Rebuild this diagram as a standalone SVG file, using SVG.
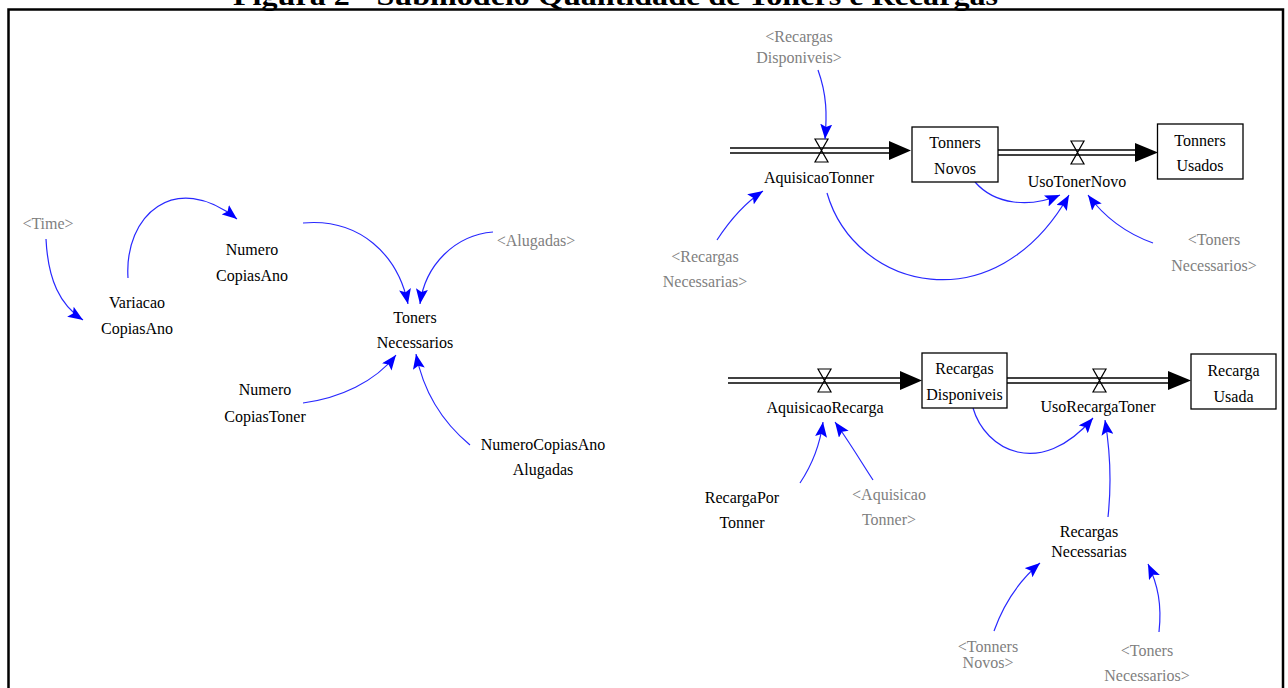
<svg xmlns="http://www.w3.org/2000/svg" width="1288" height="688" viewBox="0 0 1288 688">
<style>
text{font-family:"Liberation Serif","Times New Roman",serif;font-size:16px;text-anchor:middle;fill:#000}
.sh{fill:#808080}
.title{font-weight:bold;font-size:28px}
.lnk{fill:none;stroke:#2828ff;stroke-width:1.2;marker-end:url(#ah)}
.pipe{stroke:#000;stroke-width:1.4;fill:none}
.valve{fill:none;stroke:#000;stroke-width:1.2}
.stock{fill:#fff;stroke:#000;stroke-width:1.3}
</style>
<defs>
<marker id="ah" markerUnits="userSpaceOnUse" markerWidth="16" markerHeight="12" refX="15" refY="6" orient="auto">
<path d="M0,0 L15,6 L0,12 L3,6 z" fill="#0000ff"/>
</marker>
</defs>
<rect width="1288" height="688" fill="#fff"/>
<text class="title" x="615.5" y="5" textLength="765" lengthAdjust="spacingAndGlyphs">Figura 2 - Submodelo Quantidade de Toners e Recargas</text>
<rect x="8.5" y="9.5" width="1274.5" height="700" fill="none" stroke="#000" stroke-width="2.5"/>

<g id="flows">
<g id="pipe-aquisicaotonner">
<line class="pipe" x1="730" y1="148" x2="892" y2="148"/>
<line class="pipe" x1="730" y1="153" x2="892" y2="153"/>
<polygon points="889,141 911,150.5 889,160" fill="#000"/>
<path class="valve" d="M815,139 H828 L815,162 H828 Z"/>
</g>
<g id="pipe-usotonernovo">
<line class="pipe" x1="998" y1="150" x2="1138" y2="150"/>
<line class="pipe" x1="998" y1="155" x2="1138" y2="155"/>
<polygon points="1135,143 1158,152.5 1135,162" fill="#000"/>
<path class="valve" d="M1071,141 H1084 L1071,164 H1084 Z"/>
</g>
<g id="pipe-aquisicaorecarga">
<line class="pipe" x1="728" y1="378" x2="903" y2="378"/>
<line class="pipe" x1="728" y1="383" x2="903" y2="383"/>
<polygon points="900,371 922,380.5 900,390" fill="#000"/>
<path class="valve" d="M818,369 H831 L818,392 H831 Z"/>
</g>
<g id="pipe-usorecargatoner">
<line class="pipe" x1="1007" y1="378" x2="1171" y2="378"/>
<line class="pipe" x1="1007" y1="383" x2="1171" y2="383"/>
<polygon points="1168,371 1191,380.5 1168,390" fill="#000"/>
<path class="valve" d="M1093,369 H1106 L1093,392 H1106 Z"/>
</g>
</g>

<g id="connectors">
<path class="lnk" d="M46,239 C48,280 60,305 83,320"/>
<path class="lnk" d="M128,278 C124,215 175,170 237,219"/>
<path class="lnk" d="M303,223 C360,218 398,255 408,304"/>
<path class="lnk" d="M493,232 C455,235 425,265 420,304"/>
<path class="lnk" d="M303,403 C340,398 375,382 396,355"/>
<path class="lnk" d="M470,445 C440,420 423,390 416,354"/>
<path class="lnk" d="M818,70 C827,95 827,115 825,139"/>
<path class="lnk" d="M717,240 C730,220 745,203 763,191"/>
<path class="lnk" d="M827,193 C855,290 995,325 1069,195"/>
<path class="lnk" d="M975,182 C995,205 1030,208 1060,195"/>
<path class="lnk" d="M1153,243 C1125,233 1105,218 1088,195"/>
<path class="lnk" d="M800,483 C812,465 820,445 823,422"/>
<path class="lnk" d="M873,480 C860,460 848,440 835,422"/>
<path class="lnk" d="M973,408 C985,450 1040,480 1093,418"/>
<path class="lnk" d="M1108,517 C1112,480 1110,450 1105,420"/>
<path class="lnk" d="M994,631 C1005,600 1020,580 1040,563"/>
<path class="lnk" d="M1159,632 C1162,605 1158,585 1148,564"/>
</g>

<g id="time"><text class="sh" x="48" y="229">&lt;Time&gt;</text></g>
<g id="variacao"><text x="137" y="308">Variacao</text><text x="137" y="334">CopiasAno</text></g>
<g id="numerocopiasano"><text x="252" y="255">Numero</text><text x="252" y="281">CopiasAno</text></g>
<g id="tonersnecessarios"><text x="415" y="323">Toners</text><text x="415" y="348">Necessarios</text></g>
<g id="alugadas"><text class="sh" x="536" y="246">&lt;Alugadas&gt;</text></g>
<g id="numerocopiastoner"><text x="265" y="395">Numero</text><text x="265" y="422">CopiasToner</text></g>
<g id="numerocopiasanoalugadas"><text x="543" y="450">NumeroCopiasAno</text><text x="543" y="475">Alugadas</text></g>

<g id="recargasdisponiveis-shadow"><text class="sh" x="799" y="42">&lt;Recargas</text><text class="sh" x="799" y="63">Disponiveis&gt;</text></g>
<g id="aquisicaotonner"><text x="819" y="183">AquisicaoTonner</text></g>
<g id="tonnersnovos"><rect class="stock" x="912" y="127" width="86" height="55"/><text x="955" y="148">Tonners</text><text x="955" y="174">Novos</text></g>
<g id="usotonernovo"><text x="1077" y="187">UsoTonerNovo</text></g>
<g id="tonnersusados"><rect class="stock" x="1157.5" y="124" width="85.5" height="55"/><text x="1200" y="146">Tonners</text><text x="1200" y="171">Usados</text></g>
<g id="recargasnecessarias-shadow"><text class="sh" x="705" y="262">&lt;Recargas</text><text class="sh" x="705" y="287">Necessarias&gt;</text></g>
<g id="tonersnecessarios-shadow1"><text class="sh" x="1214" y="245">&lt;Toners</text><text class="sh" x="1214" y="271">Necessarios&gt;</text></g>

<g id="aquisicaorecarga"><text x="825" y="413">AquisicaoRecarga</text></g>
<g id="recargasdisponiveis"><rect class="stock" x="922" y="353" width="85" height="55"/><text x="964.5" y="374">Recargas</text><text x="964.5" y="400">Disponiveis</text></g>
<g id="usorecargatoner"><text x="1098" y="412">UsoRecargaToner</text></g>
<g id="recargausada"><rect class="stock" x="1191" y="354" width="85" height="55"/><text x="1233.5" y="376">Recarga</text><text x="1233.5" y="402">Usada</text></g>
<g id="recargaportonner"><text x="742" y="503">RecargaPor</text><text x="742" y="528">Tonner</text></g>
<g id="aquisicaotonner-shadow"><text class="sh" x="889" y="500">&lt;Aquisicao</text><text class="sh" x="889" y="525">Tonner&gt;</text></g>
<g id="recargasnecessarias"><text x="1089" y="537">Recargas</text><text x="1089" y="557">Necessarias</text></g>
<g id="tonnersnovos-shadow"><text class="sh" x="988" y="652">&lt;Tonners</text><text class="sh" x="988" y="668">Novos&gt;</text></g>
<g id="tonersnecessarios-shadow2"><text class="sh" x="1147" y="656">&lt;Toners</text><text class="sh" x="1147" y="681">Necessarios&gt;</text></g>
</svg>
